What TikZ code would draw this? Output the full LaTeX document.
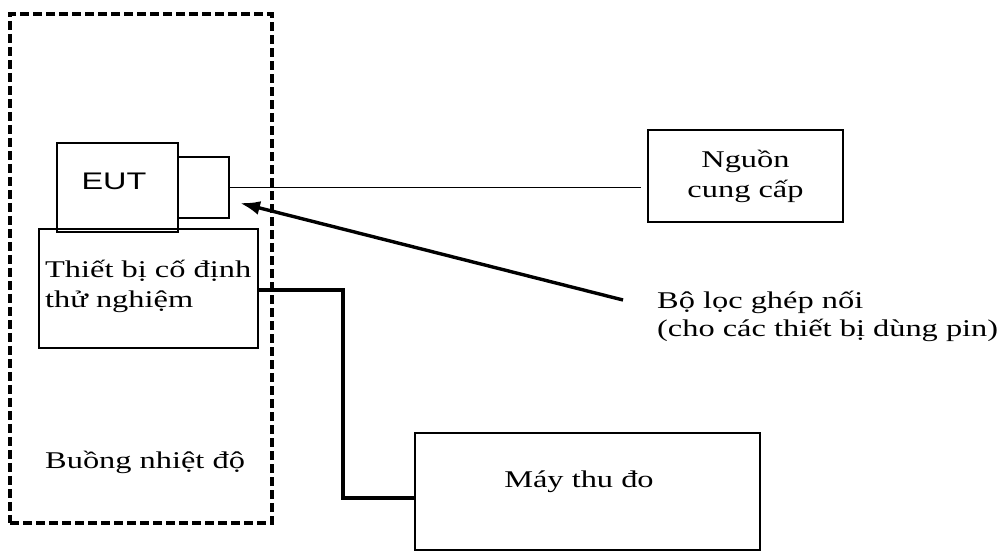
\documentclass[tikz,border=0pt]{standalone}
\usepackage{fontspec}
\setmainfont{Liberation Serif}[FakeStretch=1.35]
\newfontfamily\eutfont{Liberation Sans}[FakeStretch=1.35]
\usetikzlibrary{arrows.meta}
\begin{document}
\begin{tikzpicture}[x=1pt,y=-1pt,
  every node/.style={font=\fontsize{24}{30}\selectfont, inner sep=0pt},
  plainbox/.style={draw=black, line width=1.8pt, rectangle},
  chamberbox/.style={draw=black, line width=3.6pt, dash pattern=on 9pt off 4pt, rectangle},
  thinline/.style={draw=black, line width=1.6pt},
  heavyline/.style={draw=black, line width=4.5pt},
  pointer/.style={draw=black, line width=3.4pt, -{Latex[length=20pt,width=14pt]}},
  txt/.style={align=left, anchor=west}
]
\useasboundingbox (0,0) rectangle (1005,553);
% chamber
\node[chamberbox, minimum width=262pt, minimum height=509pt] (chamber) at (141,268.5) {};
\node[txt] (chamberlbl) at (45,462) {Buồng nhiệt độ};
% EUT and connector block
\node[plainbox, minimum width=121pt, minimum height=89pt] (eut) at (117.5,187.5) {};
\node (euttext) at (114,181) {\eutfont EUT};
\node[plainbox, minimum width=51pt, minimum height=61pt] (conn) at (203.5,187.5) {};
% fixture
\node[plainbox, minimum width=219pt, minimum height=119pt] (fix) at (148.5,288.5) {};
\node[txt] (fixtext) at (45,286) {Thiết bị cố định\\thử nghiệm};
% power supply
\node[plainbox, minimum width=195pt, minimum height=92pt, align=center] (src) at (745.5,176) {Nguồn\\cung cấp};
% receiver
\node[plainbox, minimum width=345pt, minimum height=117pt] (rx) at (587.5,491.5) {};
\node (rxtext) at (579,482) {Máy thu đo};
% filter label
\node[txt, font=\fontsize{24}{28}\selectfont] (filt) at (657,316) {Bộ lọc ghép nối\\(cho các thiết bị dùng pin)};
% connectors
\draw[thinline, shorten >=6pt] (conn.east) -- (conn.east -| src.west);
\coordinate (ftail) at (623,300);
\coordinate (fhead) at (240,203);
\draw[pointer] (ftail) -- (fhead);
\coordinate (b1) at (343,290);
\coordinate (b2) at (343,498);
\draw[heavyline] (fix.east |- b1) -- (b1) -- (b2) -- (b2 -| rx.west);
\end{tikzpicture}
\end{document}
